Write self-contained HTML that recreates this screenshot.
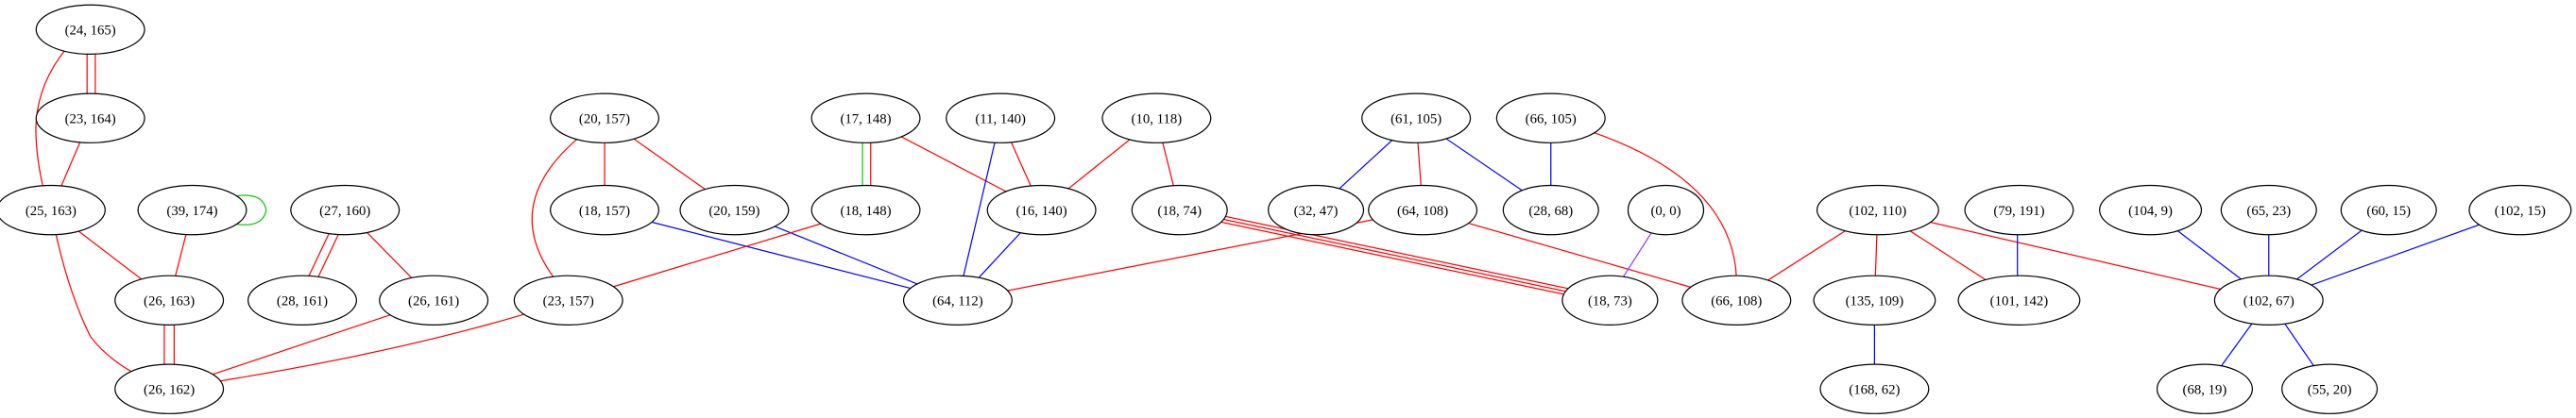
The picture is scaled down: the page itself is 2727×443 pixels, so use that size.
<!DOCTYPE html>
<html><head><meta charset="utf-8"><style>html,body{margin:0;padding:0;background:#fff;}svg{display:block;}</style></head>
<body>
<svg width="2727" height="443" viewBox="0 0 1568 254.7" preserveAspectRatio="none" xmlns="http://www.w3.org/2000/svg">
<rect width="1568" height="254.7" fill="#fff"/>
<g fill="none" stroke-width="0.7">
<path d="M53,18 L53,72 M58,18 L58,72" stroke="red"/>
<path d="M40,30 Q20,55 22,85 Q23,105 30,128" stroke="red"/>
<path d="M55,72 L31,128" stroke="red"/>
<path d="M140,120 Q160,116 162,128 Q160,140 140,136" stroke="#0c0"/>
<path d="M117,128 L103,183" stroke="red"/>
<path d="M31,128 L103,183" stroke="red"/>
<path d="M31,128 Q40,175 55,205 Q70,225 103,237" stroke="red"/>
<path d="M100,183 L100,237 M106,183 L106,237" stroke="red"/>
<path d="M207,128 L181,183 M213,128 L187,183" stroke="red"/>
<path d="M210,128 L264,183" stroke="red"/>
<path d="M264,183 L103,237" stroke="red"/>
<path d="M346,183 Q250,215 103,237" stroke="red"/>
<path d="M368,72 L368,128" stroke="red"/>
<path d="M368,72 L447,128" stroke="red"/>
<path d="M351,85 Q305,125 337,169" stroke="red"/>
<path d="M368,128 L583,183" stroke="blue"/>
<path d="M447,128 L583,183" stroke="blue"/>
<path d="M525,72 L525,128" stroke="#0c0"/>
<path d="M530,72 L530,128" stroke="red"/>
<path d="M527,72 L634,128" stroke="red"/>
<path d="M527,128 L346,183" stroke="red"/>
<path d="M609,72 L634,128" stroke="red"/>
<path d="M609,72 L583,183" stroke="blue"/>
<path d="M634,128 L583,183" stroke="blue"/>
<path d="M704,72 L634,128" stroke="red"/>
<path d="M704,72 L718,128" stroke="red"/>
<path d="M718,126 L979,181 M718,128 L979,183 M718,130 L979,185" stroke="red"/>
<path d="M862,72 L801,128" stroke="blue"/>
<path d="M862,72 L866,128" stroke="red"/>
<path d="M862,72 L944,128" stroke="blue"/>
<path d="M944,72 L944,128" stroke="blue"/>
<path d="M968,80 Q1055,110 1057,170" stroke="red"/>
<path d="M866,128 L583,183" stroke="red"/>
<path d="M866,128 L1057,183" stroke="red"/>
<path d="M1014,128 L979,183" stroke="#9933ff"/>
<path d="M1143,128 L1057,183" stroke="red"/>
<path d="M1143,128 L1141,183" stroke="red"/>
<path d="M1143,128 L1228,183" stroke="red"/>
<path d="M1143,128 L1381,183" stroke="red"/>
<path d="M1228,128 L1228,183" stroke="blue"/>
<path d="M1141,183 L1141,237" stroke="blue"/>
<path d="M1309,128 L1381,183 M1381,128 L1381,183 M1454,128 L1381,183 M1534,128 L1381,183" stroke="blue"/>
<path d="M1381,183 L1342,237 M1381,183 L1418,237" stroke="blue"/>
</g>
<g stroke="#000" stroke-width="0.7" fill="#fff">
<ellipse cx="55" cy="18" rx="33" ry="15"/>
<ellipse cx="55" cy="72" rx="33" ry="15"/>
<ellipse cx="368" cy="72" rx="33" ry="15"/>
<ellipse cx="527" cy="72" rx="33" ry="15"/>
<ellipse cx="609" cy="72" rx="33" ry="15"/>
<ellipse cx="704" cy="72" rx="33" ry="15"/>
<ellipse cx="862" cy="72" rx="33" ry="15"/>
<ellipse cx="944" cy="72" rx="33" ry="15"/>
<ellipse cx="31" cy="128" rx="33" ry="15"/>
<ellipse cx="117" cy="128" rx="33" ry="15"/>
<ellipse cx="210" cy="128" rx="33" ry="15"/>
<ellipse cx="368" cy="128" rx="33" ry="15"/>
<ellipse cx="447" cy="128" rx="33" ry="15"/>
<ellipse cx="527" cy="128" rx="33" ry="15"/>
<ellipse cx="634" cy="128" rx="33" ry="15"/>
<ellipse cx="718" cy="128" rx="29" ry="15"/>
<ellipse cx="801" cy="128" rx="29" ry="15"/>
<ellipse cx="866" cy="128" rx="33" ry="15"/>
<ellipse cx="944" cy="128" rx="29" ry="15"/>
<ellipse cx="1014" cy="128" rx="23" ry="15"/>
<ellipse cx="1143" cy="128" rx="37" ry="15"/>
<ellipse cx="1229" cy="128" rx="33" ry="15"/>
<ellipse cx="1309" cy="128" rx="31" ry="15"/>
<ellipse cx="1381" cy="128" rx="29" ry="15"/>
<ellipse cx="1454" cy="128" rx="29" ry="15"/>
<ellipse cx="1534" cy="128" rx="31" ry="15"/>
<ellipse cx="103" cy="183" rx="33" ry="15"/>
<ellipse cx="184" cy="183" rx="33" ry="15"/>
<ellipse cx="264" cy="183" rx="33" ry="15"/>
<ellipse cx="346" cy="183" rx="33" ry="15"/>
<ellipse cx="583" cy="183" rx="33" ry="15"/>
<ellipse cx="980" cy="183" rx="29" ry="15"/>
<ellipse cx="1057" cy="183" rx="33" ry="15"/>
<ellipse cx="1141" cy="183" rx="37" ry="15"/>
<ellipse cx="1229" cy="183" rx="37" ry="15"/>
<ellipse cx="1381" cy="183" rx="33" ry="15"/>
<ellipse cx="103" cy="237" rx="33" ry="15"/>
<ellipse cx="1141" cy="237" rx="33" ry="15"/>
<ellipse cx="1342" cy="237" rx="29" ry="15"/>
<ellipse cx="1418" cy="237" rx="29" ry="15"/>
</g>
<g font-family="'Liberation Serif', serif" font-size="8.5" text-anchor="middle" fill="#000">
<text x="55" y="21">(24, 165)</text>
<text x="55" y="75">(23, 164)</text>
<text x="368" y="75">(20, 157)</text>
<text x="527" y="75">(17, 148)</text>
<text x="609" y="75">(11, 140)</text>
<text x="704" y="75">(10, 118)</text>
<text x="862" y="75">(61, 105)</text>
<text x="944" y="75">(66, 105)</text>
<text x="31" y="131">(25, 163)</text>
<text x="117" y="131">(39, 174)</text>
<text x="210" y="131">(27, 160)</text>
<text x="368" y="131">(18, 157)</text>
<text x="447" y="131">(20, 159)</text>
<text x="527" y="131">(18, 148)</text>
<text x="634" y="131">(16, 140)</text>
<text x="718" y="131">(18, 74)</text>
<text x="801" y="131">(32, 47)</text>
<text x="866" y="131">(64, 108)</text>
<text x="944" y="131">(28, 68)</text>
<text x="1014" y="131">(0, 0)</text>
<text x="1143" y="131">(102, 110)</text>
<text x="1229" y="131">(79, 191)</text>
<text x="1309" y="131">(104, 9)</text>
<text x="1381" y="131">(65, 23)</text>
<text x="1454" y="131">(60, 15)</text>
<text x="1534" y="131">(102, 15)</text>
<text x="103" y="186">(26, 163)</text>
<text x="184" y="186">(28, 161)</text>
<text x="264" y="186">(26, 161)</text>
<text x="346" y="186">(23, 157)</text>
<text x="583" y="186">(64, 112)</text>
<text x="980" y="186">(18, 73)</text>
<text x="1057" y="186">(66, 108)</text>
<text x="1141" y="186">(135, 109)</text>
<text x="1229" y="186">(101, 142)</text>
<text x="1381" y="186">(102, 67)</text>
<text x="103" y="240">(26, 162)</text>
<text x="1141" y="240">(168, 62)</text>
<text x="1342" y="240">(68, 19)</text>
<text x="1418" y="240">(55, 20)</text>
</g>
</svg>
</body></html>
